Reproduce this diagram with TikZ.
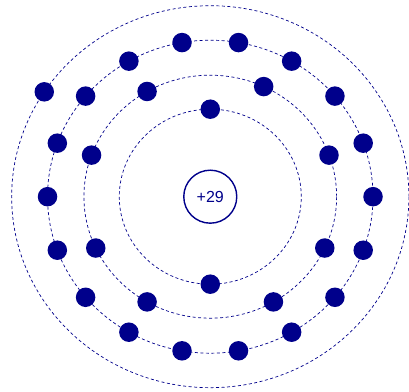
\documentclass[tikz,border=0pt]{standalone}
\usepackage{fontspec}
\usepackage{xcolor}
\usepackage{tikz}
\newfontfamily\labelfont{Liberation Sans}
\definecolor{mNavy}{RGB}{0,0,139}
\tikzset{
orbit/.style={draw=mNavy,line width=0.7pt,dash pattern=on 3pt off 2.5pt},
electron/.style={circle,fill=mNavy,minimum size=19.5pt,inner sep=0pt},
nucleus/.style={circle,draw=mNavy,line width=1.4pt,fill=white,minimum size=53pt,inner sep=0pt,text=mNavy,font=\labelfont\fontsize{16}{16}\selectfont}
}
\begin{document}
\begin{tikzpicture}[x=1.04pt,y=1pt]
\useasboundingbox (-202.2,-195.3) rectangle (191.1,196.7);
\node[nucleus] (nuc) at (0,0) {+29};
% shells
\draw[orbit] (nuc.center) circle (87.5);
\draw[orbit] (nuc.center) circle (121.5);
\draw[orbit] (nuc.center) circle (156.5);
\draw[orbit] (nuc.center) circle (191);
% electrons
\foreach \a [count=\i] in {90,270}
  \node[electron] (ka\i) at (\a:87.5) {};
\foreach \a [count=\i] in {20,65,120,160,205,240,300,335}
  \node[electron] (lb\i) at (\a:121.5) {};
\foreach \a [count=\i] in {0,20,...,340}
  \node[electron] (mc\i) at (\a:156.5) {};
\node[electron] (nd1) at (146.7:191) {};
\end{tikzpicture}
\end{document}
